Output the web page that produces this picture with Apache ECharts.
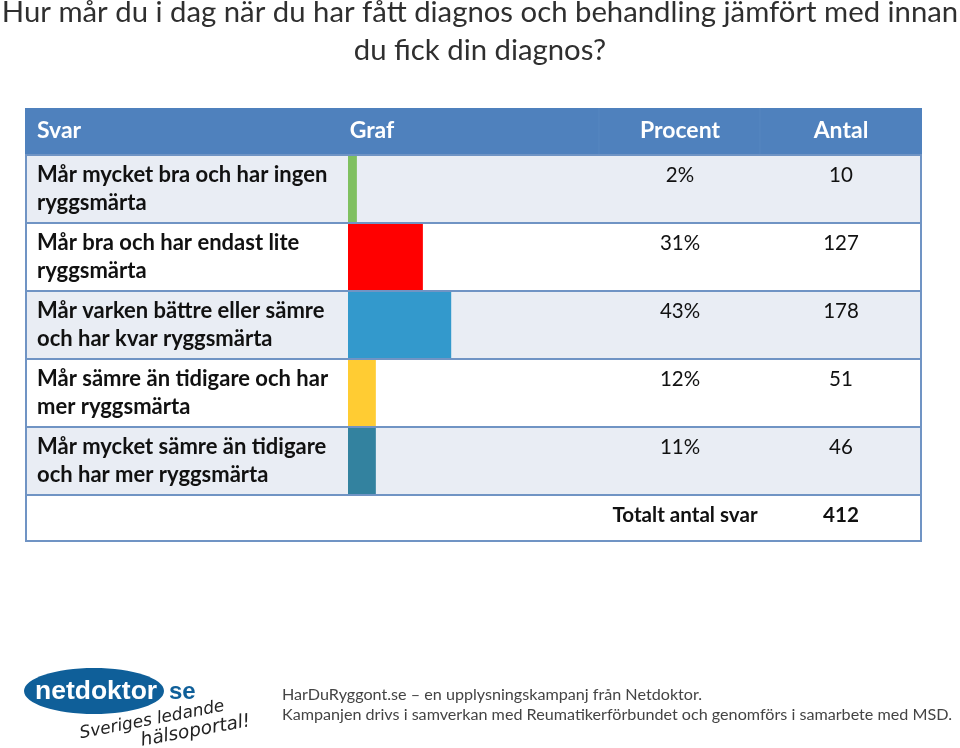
<!DOCTYPE html>
<html>
<head>
<meta charset="utf-8">
<style>
html,body{margin:0;padding:0;background:#fff;}
#chart{width:960px;height:748px;}
</style>
<script src="https://cdn.jsdelivr.net/npm/echarts@6/dist/echarts.min.js"></script>
</head>
<body>
<div id="chart"></div>
<script>
var categories = [
	"Mår mycket bra och har ingen\nryggsmärta",
	"Mår bra och har endast lite\nryggsmärta",
	"Mår varken bättre eller sämre\noch har kvar ryggsmärta",
	"Mår sämre än tidigare och har\nmer ryggsmärta",
	"Mår mycket sämre än tidigare\noch har mer ryggsmärta"
];
// bar lengths as drawn in the picture, they do not follow the printed percent exactly
var barValues = [3.7, 31.2, 43, 11.6, 11.6];
var barColors = ["#7fc060", "#ff0000", "#3399cc", "#ffcc33", "#33829f"];
var percentLabels = ["2%", "31%", "43%", "12%", "11%"];
var countLabels = ["10", "127", "178", "51", "46"];
var headers = ["Svar", "Graf", "Procent", "Antal"];
var totalLabel = "Totalt antal svar";
var totalValue = "412";

var FONT = "Lato";
var left = 25, right = 922, headTop = 108, rowTop = 155, rowH = 68, bottom = 541;
var lineColor = "#7094c4";
var g = [];

// table background
g.push({type: "rect", z: 0, shape: {x: left, y: headTop, width: right - left, height: rowTop - headTop}, style: {fill: "#4f81bd"}});
categories.forEach(function (c, i) {
	g.push({type: "rect", z: 0, shape: {x: left, y: rowTop + i * rowH, width: right - left, height: rowH},
		style: {fill: i % 2 == 0 ? "#e9edf4" : "#ffffff"}});
});
[599, 760].forEach(function (x) {
	g.push({type: "line", z: 0, shape: {x1: x, y1: headTop, x2: x, y2: rowTop}, style: {stroke: "#5686c0", lineWidth: 1}});
});
for (var i = 1; i <= categories.length; i++) {
	g.push({type: "line", z: 5, shape: {x1: left, y1: rowTop + i * rowH, x2: right, y2: rowTop + i * rowH}, style: {stroke: lineColor, lineWidth: 2}});
}
g.push({type: "rect", z: 5, shape: {x: left + 1, y: rowTop, width: right - left - 2, height: bottom - rowTop}, style: {fill: "none", stroke: lineColor, lineWidth: 2}});

function txt(s, x, y, size, weight, color, align) {
	g.push({type: "text", z: 6, x: x, y: y, style: {text: s, fontFamily: FONT, fontSize: size, fontWeight: weight, fill: color, align: align || "center", verticalAlign: "middle"}});
}

// title
txt("Hur mår du i dag när du har fått diagnos och behandling jämfört med innan", 480, 13, 29.3, "normal", "#2f2f2f");
txt("du fick din diagnos?", 480, 51, 29.3, "normal", "#2f2f2f");

// header and number columns
txt(headers[0], 37, 131, 23, "bold", "#fff", "left");
txt(headers[1], 372, 131, 23, "bold", "#fff");
txt(headers[2], 680, 131, 23, "bold", "#fff");
txt(headers[3], 841, 131, 23, "bold", "#fff");
percentLabels.forEach(function (s, i) {
	txt(s, 680, rowTop + i * rowH + 20, 20.5, "normal", "#111");
	txt(countLabels[i], 841, rowTop + i * rowH + 20, 20.5, "normal", "#111");
});
txt(totalLabel, 685, 515, 20.6, "bold", "#111");
txt(totalValue, 841, 515, 20.6, "bold", "#111");

// logo
g.push({type: "ellipse", z: 2, shape: {cx: 94, cy: 691, rx: 70, ry: 23}, style: {fill: "#0f5f99"}});
g.push({type: "text", z: 3, x: 35, y: 692, style: {text: "netdoktor", fontFamily: "Liberation Sans", fontSize: 26.5, fontWeight: "bold", fill: "#fff", verticalAlign: "middle"}});
g.push({type: "text", z: 3, x: 169, y: 692, style: {text: "se", fontFamily: "Liberation Sans", fontSize: 24, fontWeight: "bold", fill: "#0f5f99", verticalAlign: "middle"}});
g.push({type: "text", z: 3, x: 80, y: 734, rotation: 0.19, style: {text: "Sveriges ledande", fontFamily: "DejaVu Sans", fontStyle: "italic", fontSize: 17, fill: "#222", verticalAlign: "middle"}});
g.push({type: "text", z: 3, x: 141, y: 741, rotation: 0.18, style: {text: "hälsoportal!", fontFamily: "DejaVu Sans", fontStyle: "italic", fontSize: 18.5, fill: "#222", verticalAlign: "middle"}});

// footer
txt("HarDuRyggont.se – en upplysningskampanj från Netdoktor.", 282, 695, 16.15, "normal", "#444", "left");
txt("Kampanjen drivs i samverkan med Reumatikerförbundet och genomförs i samarbete med MSD.", 282, 715, 16.15, "normal", "#444", "left");

var myChart = echarts.init(document.getElementById("chart"), null, {renderer: "canvas"});
myChart.setOption({
	animation: false,
	backgroundColor: "#fff",
	grid: {left: 348, top: rowTop, width: 240, height: rowH * categories.length},
	xAxis: {type: "value", min: 0, max: 100, show: false},
	yAxis: {
		type: "category",
		inverse: true,
		data: categories,
		axisLine: {show: false},
		axisTick: {show: false},
		splitLine: {show: false},
		axisLabel: {
			margin: 311,
			align: "left",
			fontFamily: FONT,
			fontWeight: "bold",
			fontSize: 22,
			lineHeight: 28.5,
			padding: [2, 0, 0, 0],
			color: "#111"
		}
	},
	series: [{
		type: "bar",
		z: 3,
		barWidth: "100%",
		data: barValues.map(function (v, i) {
			return {value: v, itemStyle: {color: barColors[i]}};
		})
	}],
	graphic: {elements: g}
});
</script>
</body>
</html>
